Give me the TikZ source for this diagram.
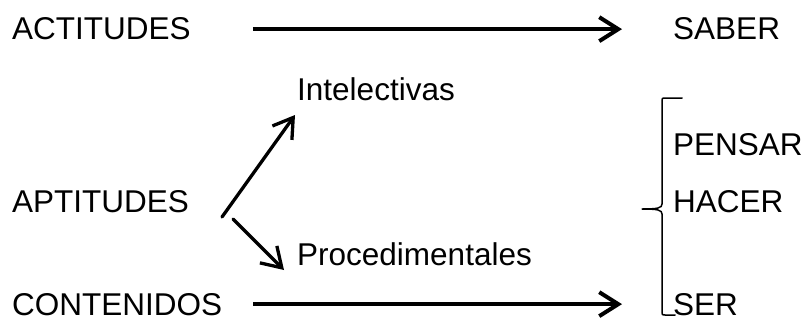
\documentclass[tikz,border=0pt]{standalone}
\usepackage{fontspec}
\setmainfont{Liberation Sans}
\usetikzlibrary{arrows.meta}
\begin{document}
\begin{tikzpicture}[x=1pt,y=-1pt,>={Straight Barb[length=19pt,width=24pt]}, font=\fontsize{31.5}{36}\selectfont, line join=round, line cap=round,
		txt/.style={inner sep=0pt, anchor=base west},
		flecha/.style={->, line width=4pt, line cap=butt},
		diag/.style={->, line width=3.3pt}]
		\useasboundingbox (0,0) rectangle (805,321);
		% columna izquierda
		\node[txt] (act) at (12,40) {ACTITUDES};
		\node[txt] (apt) at (12,212) {APTITUDES};
		\node[txt] (con) at (12,315) {CONTENIDOS};
		% centro
		\node[txt] (int) at (297,100) {Intelectivas};
		\node[txt] (pro) at (297,265) {Procedimentales};
		% derecha
		\node[txt] (sab) at (673,40) {SABER};
		\node[txt] (pen) at (673,155) {PENSAR};
		\node[txt] (hac) at (673,212) {HACER};
		\node[txt] (ser) at (673,315) {SER};
		\draw[flecha, shorten <=62pt, shorten >=51pt] (act.east) -- (sab.west);
		\draw[flecha, shorten <=31pt, shorten >=51pt] (con.east) -- (ser.west);
		\coordinate (a1) at (222,217);
		\coordinate (a2) at (233,219);
		\draw[diag] (a1) -- ([xshift=-2pt,yshift=-15pt]int.base west);
		\draw[diag] (a2) -- ([xshift=-13pt,yshift=-5pt]pro.base west);
		% llave
		\draw[line width=1.5pt] (682,98) -- (665,98) .. controls (662,98) .. (662,101) -- (662,204)
			.. controls (662,208) and (658,209) .. (642,209)
			.. controls (658,209) and (662,210) .. (662,214) -- (662,312)
			.. controls (662,315) .. (665,315) -- (675,315);
\end{tikzpicture}
\end{document}
